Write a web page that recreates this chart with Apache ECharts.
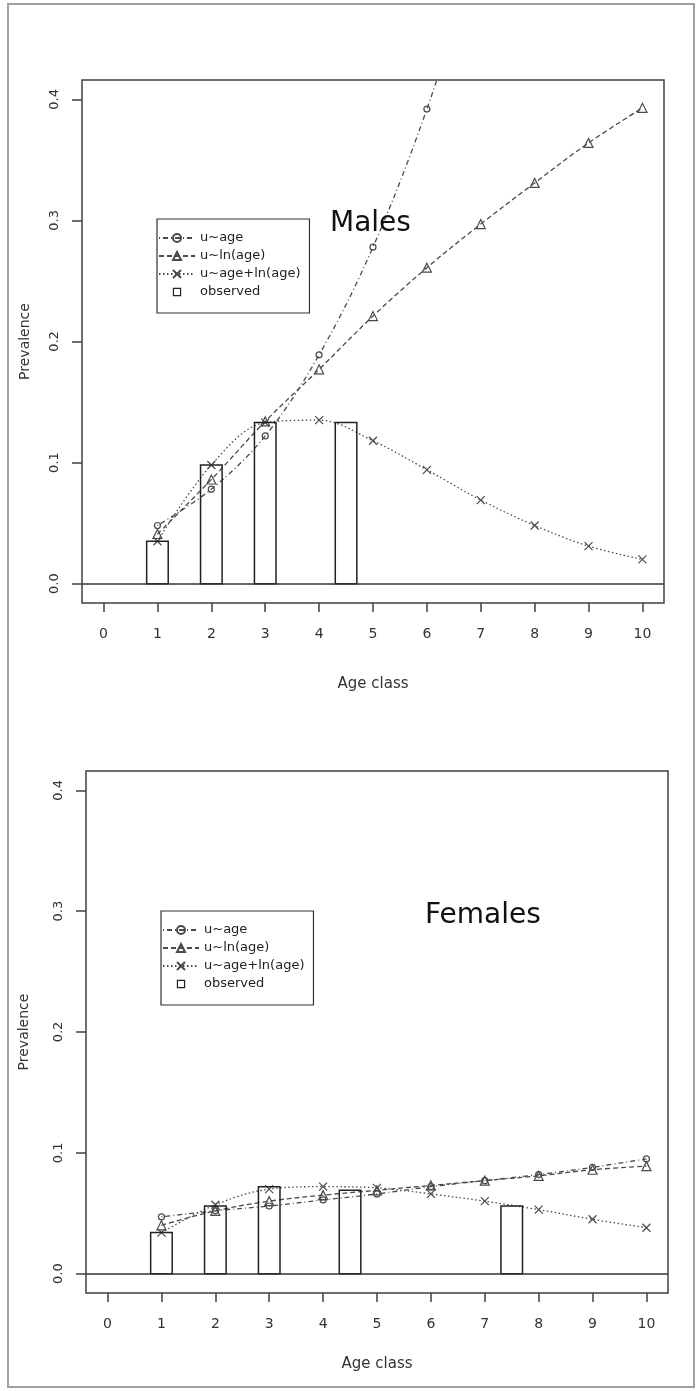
<!DOCTYPE html>
<html><head><meta charset="utf-8">
<script src="https://cdn.jsdelivr.net/npm/echarts@6/dist/echarts.min.js"></script>
<style>html,body{margin:0;padding:0;background:#fff}#c{width:699px;height:1391px}</style>
</head><body><div id="c"></div>
<script>
// ---- data ----
const ageClasses = [1, 2, 3, 4, 5, 6, 7, 8, 9, 10];
const xTicks = [0, 1, 2, 3, 4, 5, 6, 7, 8, 9, 10];
const yTicks = [0, 0.1, 0.2, 0.3, 0.4];
const panelTitles = ['Males', 'Females'];
const seriesNames = ['u~age', 'u~ln(age)', 'u~age+ln(age)', 'observed'];

// Males
const malesAge   = [0.048, 0.078, 0.122, 0.189, 0.278, 0.392, 0.530];
const malesLnAge = [0.041, 0.086, 0.134, 0.177, 0.221, 0.261, 0.297, 0.331, 0.364, 0.393];
const malesAgeLn = [0.035, 0.098, 0.133, 0.135, 0.118, 0.094, 0.069, 0.048, 0.031, 0.020];
const malesObsClass = [1, 2, 3, 4.5];
const malesObs      = [0.035, 0.098, 0.133, 0.133];

// Females
const femalesAge   = [0.047, 0.052, 0.056, 0.061, 0.066, 0.072, 0.077, 0.082, 0.088, 0.095];
const femalesLnAge = [0.040, 0.052, 0.060, 0.065, 0.069, 0.073, 0.077, 0.081, 0.086, 0.089];
const femalesAgeLn = [0.034, 0.057, 0.070, 0.072, 0.071, 0.066, 0.060, 0.053, 0.045, 0.038];
const femalesObsClass = [1, 2, 3, 4.5, 7.5];
const femalesObs      = [0.034, 0.056, 0.072, 0.069, 0.056];

// ---- styles ----
const FONT = 'DejaVu Sans';
const LINE_COLOR = '#4a4a4a';
const AXIS_COLOR = '#404040';
const TEXT_COLOR = '#333';
const crossPath = 'path://M0,0L10,10M10,0L0,10';
const squareIcon = 'path://M-2,-2M0,0H10V10H0ZM12,12';

function pairs(xs, ys) { return ys.map((v, i) => [xs[i], v]); }

function lineSeries(name, vals, gi, dash, symbol, size, extra) {
  return Object.assign({
    type: 'line', name: name, xAxisIndex: gi, yAxisIndex: gi,
    data: pairs(ageClasses, vals),
    smooth: 0.35, clip: true,
    symbol: symbol, symbolSize: size, showSymbol: true,
    lineStyle: { color: LINE_COLOR, width: 1.3, type: dash },
    itemStyle: { color: 'rgba(0,0,0,0)', borderColor: LINE_COLOR, borderWidth: 1.2 },
    emphasis: { disabled: true }, z: 3
  }, extra || {});
}

function obsSeries(cls, vals, gi) {
  return {
    type: 'custom', name: 'observed', xAxisIndex: gi, yAxisIndex: gi,
    data: pairs(cls, vals), encode: { x: 0, y: 1 },
    itemStyle: { color: 'rgba(0,0,0,0)', borderColor: '#222', borderWidth: 1.5 },
    renderItem: function (params, api) {
      const x = api.value(0), y = api.value(1);
      const p0 = api.coord([x - 0.2, y]);
      const p1 = api.coord([x + 0.2, 0]);
      return { type: 'rect',
        shape: { x: p0[0], y: p0[1], width: p1[0] - p0[0], height: p1[1] - p0[1] },
        style: { fill: 'none', stroke: '#222', lineWidth: 1.5 } };
    }, z: 4
  };
}

function panelSeries(gi, age, lnAge, ageLn, obsCls, obs) {
  return [
    lineSeries(seriesNames[0], age, gi, [1, 3, 5, 3], 'circle', 6),
    lineSeries(seriesNames[1], lnAge, gi, [5, 3], 'triangle', 9, {
      markLine: { silent: true, symbol: 'none', label: { show: false },
        lineStyle: { color: '#333', width: 1.5, type: 'solid' },
        emphasis: { disabled: true },
        data: [{ yAxis: 0 }] }
    }),
    lineSeries(seriesNames[2], ageLn, gi, [1.5, 2.5], crossPath, 8),
    obsSeries(obsCls, obs, gi)
  ];
}

const grids = [
  { left: 82, top: 80, width: 582, height: 523 },
  { left: 86, top: 771, width: 582, height: 522 }
];
const xNameGaps = [74, 64];
const yNameGaps = [50, 55];

function xAxis(gi) {
  return {
    type: 'value', gridIndex: gi, min: -0.4, max: 10.4,
    name: 'Age class', nameLocation: 'middle', nameGap: xNameGaps[gi],
    nameTextStyle: { fontFamily: FONT, fontSize: 15, color: TEXT_COLOR },
    axisLine: { show: false, onZero: false },
    splitLine: { show: false },
    axisTick: { show: true, customValues: xTicks, length: 9, lineStyle: { color: AXIS_COLOR, width: 1.5 } },
    axisLabel: { show: true, customValues: xTicks, margin: 24, fontFamily: FONT, fontSize: 14, color: TEXT_COLOR }
  };
}
function yAxis(gi) {
  return {
    type: 'value', gridIndex: gi, min: -0.016, max: 0.416,
    name: 'Prevalence', nameLocation: 'middle', nameGap: yNameGaps[gi],
    nameTextStyle: { fontFamily: FONT, fontSize: 14, color: TEXT_COLOR },
    axisLine: { show: false, onZero: false },
    splitLine: { show: false },
    axisTick: { show: true, customValues: yTicks, length: 10, lineStyle: { color: AXIS_COLOR, width: 1.5 } },
    axisLabel: { show: true, customValues: yTicks, margin: 21, rotate: 90, fontFamily: FONT, fontSize: 13, color: TEXT_COLOR,
      formatter: v => v.toFixed(1) }
  };
}

function legend(gi, left, top) {
  return {
    orient: 'vertical', left: left, top: top,
    data: [
      { name: seriesNames[0] }, { name: seriesNames[1] }, { name: seriesNames[2] },
      { name: seriesNames[3], icon: squareIcon, itemStyle: { color: 'rgba(0,0,0,0)', borderColor: '#222', borderWidth: 1.2 } }
    ],
    itemWidth: 36, itemHeight: 10, itemGap: 4,
    padding: [12, 9, 14, 1],
    borderColor: '#333', borderWidth: 1.2, borderRadius: 0,
    backgroundColor: '#fff',
    selectedMode: false,
    textStyle: { fontFamily: FONT, fontSize: 13, color: '#222', lineHeight: 14 }
  };
}

const chart = echarts.init(document.getElementById('c'), null, { renderer: 'canvas' });
chart.setOption({
  animation: false,
  backgroundColor: '#fff',
  title: [
    { text: panelTitles[0], left: 330, top: 210, padding: 0,
      textStyle: { fontFamily: FONT, fontSize: 28, fontWeight: 'normal', color: '#111' } },
    { text: panelTitles[1], left: 425, top: 902, padding: 0,
      textStyle: { fontFamily: FONT, fontSize: 28, fontWeight: 'normal', color: '#111' } }
  ],
  legend: [legend(0, 157, 219), legend(1, 161, 911)],
  grid: grids.map(g => Object.assign({ show: true, borderColor: AXIS_COLOR, borderWidth: 1.5, backgroundColor: 'rgba(0,0,0,0)' }, g)),
  xAxis: [xAxis(0), xAxis(1)],
  yAxis: [yAxis(0), yAxis(1)],
  graphic: [
    { type: 'rect', shape: { x: 8, y: 4, width: 686, height: 1383 }, style: { fill: 'none', stroke: '#a0a0a0', lineWidth: 2 }, silent: true, z: -1 }
  ],
  series: [].concat(
    panelSeries(0, malesAge, malesLnAge, malesAgeLn, malesObsClass, malesObs),
    panelSeries(1, femalesAge, femalesLnAge, femalesAgeLn, femalesObsClass, femalesObs)
  )
});
</script>
</body></html>
